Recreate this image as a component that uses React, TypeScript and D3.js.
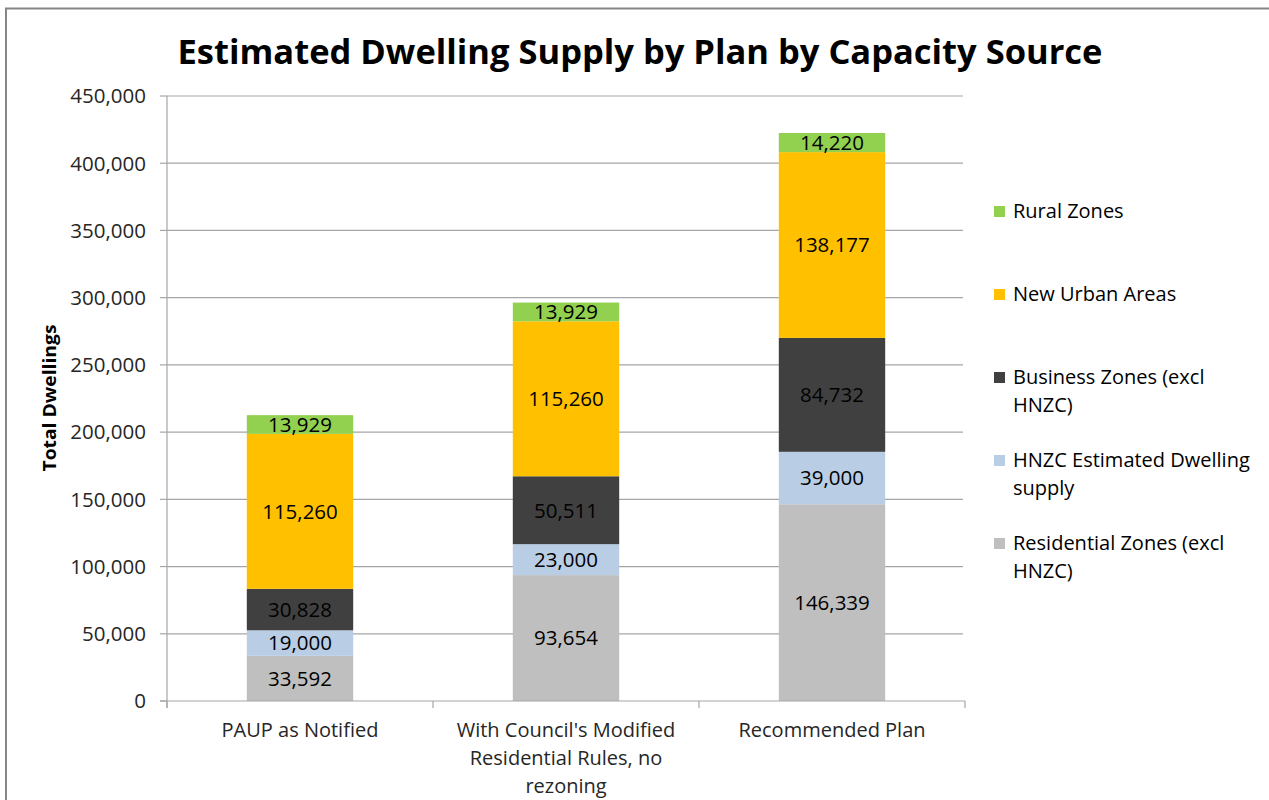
import React from 'react';
import * as d3 from 'd3';

const categories = ["PAUP as Notified", "With Council's Modified Residential Rules, no rezoning", "Recommended Plan"];
const categoryLines = [["PAUP as Notified"], ["With Council's Modified", "Residential Rules, no", "rezoning"], ["Recommended Plan"]];
const seriesKeys = ["residential", "hnzc", "business", "newUrban", "rural"];
const residential = [33592, 93654, 146339];
const hnzc = [19000, 23000, 39000];
const business = [30828, 50511, 84732];
const newUrban = [115260, 115260, 138177];
const rural = [13929, 13929, 14220];
const seriesColors = ["#BFBFBF", "#B9CDE5", "#404040", "#FFC000", "#92D050"];
const legendOrder = ["rural", "newUrban", "business", "hnzc", "residential"];
const legendLabels: Record<string, string[]> = {
  rural: ["Rural Zones"],
  newUrban: ["New Urban Areas"],
  business: ["Business Zones (excl", "HNZC)"],
  hnzc: ["HNZC Estimated Dwelling", "supply"],
  residential: ["Residential Zones (excl", "HNZC)"],
};
const yTicks = [0, 50000, 100000, 150000, 200000, 250000, 300000, 350000, 400000, 450000];
const title = "Estimated Dwelling Supply by Plan by Capacity Source";
const yTitle = "Total Dwellings";

const FONT = "'Open Sans', sans-serif";

export default function App() {
  const rows = categories.map((c, i) => ({
    cat: c,
    residential: residential[i],
    hnzc: hnzc[i],
    business: business[i],
    newUrban: newUrban[i],
    rural: rural[i],
  }));
  const stack = d3.stack<any>().keys(seriesKeys)(rows);
  const x = d3.scaleBand<string>().domain(categories).range([167, 965]).paddingInner(0).paddingOuter(0);
  const y = d3.scaleLinear().domain([0, 450000]).range([701, 96]);
  const bw = x.bandwidth() * 0.4;
  const fmt = d3.format(",");
  const colorOf = (k: string) => seriesColors[seriesKeys.indexOf(k)];

  return (
    <svg width={1269} height={800} style={{ position: 'absolute', left: 0, top: 0, background: '#fff' }} fontFamily={FONT}>
      <rect x={0} y={0} width={1269} height={800} fill="#fff" />
      <path d="M6,800 V8.5 H1269" fill="none" stroke="#868686" strokeWidth={2} />
      <text x={640} y={64} textAnchor="middle" fontSize={34} fontWeight="bold" fill="#000" textLength={925} lengthAdjust="spacingAndGlyphs">{title}</text>
      {yTicks.map(t => (
        <g key={t}>
          {t > 0 && <line x1={167} x2={963} y1={y(t)} y2={y(t)} stroke="#A6A6A6" strokeWidth={1.2} />}
          <line x1={160} x2={167} y1={y(t)} y2={y(t)} stroke="#A6A6A6" strokeWidth={1.2} />
          <text x={146} y={y(t)} dy="0.36em" textAnchor="end" fontSize={20.5} fill="#262626">{fmt(t)}</text>
        </g>
      ))}
      <text transform={`translate(56,398) rotate(-90)`} textAnchor="middle" fontSize={18} fontWeight="bold" fill="#000" textLength={147} lengthAdjust="spacingAndGlyphs">{yTitle}</text>
      {stack.map(s => (
        <g key={s.key}>
          {s.map((d, i) => {
            const x0 = (x(categories[i]) as number) + (x.bandwidth() - bw) / 2;
            return (
              <g key={i}>
                <rect x={x0} y={y(d[1])} width={bw} height={y(d[0]) - y(d[1])} fill={colorOf(s.key)} />
                <text x={x0 + bw / 2} y={(y(d[0]) + y(d[1])) / 2} dy="0.36em" textAnchor="middle" fontSize={20.5} fill="#000">{fmt(d[1] - d[0])}</text>
              </g>
            );
          })}
        </g>
      ))}
      <line x1={167} x2={167} y1={96} y2={708} stroke="#A6A6A6" strokeWidth={1.2} />
      <line x1={160} x2={965} y1={701} y2={701} stroke="#A6A6A6" strokeWidth={1.2} />
      {[0, 1, 2, 3].map(i => {
        const xx = 167 + i * x.bandwidth();
        return <line key={i} x1={xx} x2={xx} y1={701} y2={708} stroke="#A6A6A6" strokeWidth={1.2} />;
      })}
      {categoryLines.map((lines, i) => (
        <text key={i} textAnchor="middle" fontSize={20} fill="#262626">
          {lines.map((l, j) => (
            <tspan key={j} x={(x(categories[i]) as number) + x.bandwidth() / 2} y={737 + j * 28}>{l}</tspan>
          ))}
        </text>
      ))}
      {legendOrder.map((k, i) => {
        const cy = 211 + i * 83;
        return (
          <g key={k}>
            <rect x={994} y={cy - 5} width={11} height={11} fill={colorOf(k)} />
            <text fontSize={20} fill="#000">
              {legendLabels[k].map((l, j) => (
                <tspan key={j} x={1013} y={cy + 7 + j * 28}>{l}</tspan>
              ))}
            </text>
          </g>
        );
      })}
    </svg>
  );
}
